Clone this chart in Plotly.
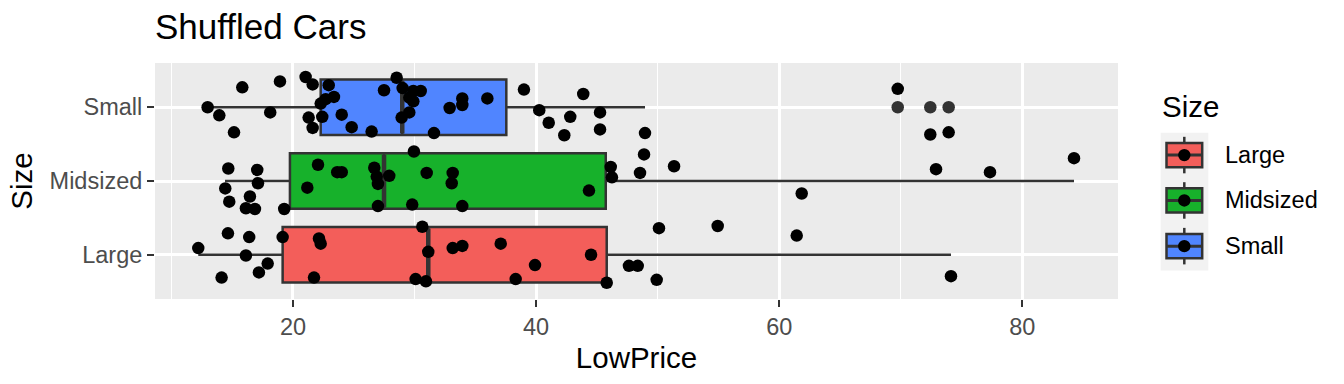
import plotly.graph_objects as go

# ---------------- data ----------------
categories = ["Large", "Midsized", "Small"]
cat_pos = {"Large": 1, "Midsized": 2, "Small": 3}
colors = {"Large": "#F35E5A", "Midsized": "#17B12B", "Small": "#5085FF"}

# box statistics
box_lower = {"Large": 12.21, "Midsized": 14.41, "Small": 12.98}
box_q1 = {"Large": 19.15, "Midsized": 19.75, "Small": 22.28}
box_median = {"Large": 31.13, "Midsized": 27.49, "Small": 28.99}
box_q3 = {"Large": 45.81, "Midsized": 45.73, "Small": 37.55}
box_upper = {"Large": 74.13, "Midsized": 84.25, "Small": 48.96}
outliers_small = [69.75, 72.43, 73.94]

# jittered points (x = LowPrice, y = jittered category position)
small_x = [12.98, 13.94, 15.15, 15.83, 18.93, 18.13, 21.04, 21.62, 21.29, 21.62,
           22.41, 22.28, 22.69, 23.37, 22.94, 24.01, 24.83, 26.47, 27.49, 28.53,
           29.02, 29.90, 30.51, 29.57, 29.90, 29.57, 28.94, 31.60, 32.89, 33.93,
           33.93, 35.99, 39.00, 40.26, 41.04, 42.32, 42.81, 43.88, 45.26, 45.26,
           48.96, 69.75, 72.43, 73.94]
small_y = [3.00, 2.89, 2.66, 3.27, 3.35, 2.93, 3.41, 3.31, 2.86, 2.72,
           2.87, 3.05, 3.11, 3.14, 3.30, 2.90, 2.73, 2.67, 3.23, 3.40,
           3.26, 3.22, 3.22, 3.13, 3.08, 2.93, 2.86, 2.65, 2.99, 3.12,
           3.03, 3.12, 3.24, 2.96, 2.79, 2.62, 2.87, 3.18, 2.93, 2.70,
           2.65, 3.25, 2.63, 2.66]

mid_x = [14.68, 17.06, 17.12, 14.43, 16.46, 14.76, 16.13, 16.87, 19.28, 21.18,
         22.06, 23.64, 24.01, 26.69, 26.89, 26.99, 27.92, 26.99, 29.81, 29.95,
         31.00, 33.14, 33.06, 33.93, 44.35, 46.14, 46.24, 48.55, 48.88, 51.35,
         61.85, 72.90, 77.34, 84.25]
mid_y = [2.17, 2.15, 1.97, 1.90, 1.79, 1.72, 1.63, 1.62, 1.62, 1.91,
         2.22, 2.12, 2.12, 2.18, 2.06, 1.96, 2.07, 1.66, 1.68, 2.40,
         2.11, 2.11, 1.97, 1.66, 1.87, 2.19, 2.05, 2.11, 2.36, 2.20,
         1.83, 2.16, 2.12, 2.31]

large_x = [12.21, 14.65, 16.40, 16.13, 14.13, 17.20, 17.92, 19.15, 22.14, 22.28,
           21.73, 30.64, 31.13, 30.09, 30.94, 33.14, 33.93, 37.09, 39.91, 38.32,
           44.52, 45.81, 47.64, 48.36, 50.11, 49.92, 54.94, 61.44, 74.13]
large_y = [1.09, 1.29, 1.24, 0.99, 0.69, 0.76, 0.88, 1.24, 1.22, 1.15,
           0.69, 1.38, 1.04, 0.67, 0.64, 1.09, 1.12, 1.15, 0.86, 0.67,
           1.00, 0.62, 0.85, 0.85, 1.36, 0.66, 1.39, 1.26, 0.71]

x_ticks = [20, 40, 60, 80]

# ---------------- layout constants ----------------
W, H = 1344, 384
L, R, T, B = 155, 1118, 62.7, 299.3
BOX_W = 0.75
LINE = "#333333"
FONT = "Liberation Sans, Arial, Helvetica, sans-serif"
TICK_SIZE = 23.5
TITLE_SIZE = 29.5


def px_x(px):
    return (px - L) / (R - L)


def px_y(py):
    return (B - py) / (B - T)


fig = go.Figure()

for c in categories:
    fig.add_trace(go.Box(
        y=[cat_pos[c]], q1=[box_q1[c]], median=[box_median[c]], q3=[box_q3[c]],
        lowerfence=[box_lower[c]], upperfence=[box_upper[c]],
        orientation="h", width=BOX_W, fillcolor=colors[c],
        line=dict(color=LINE, width=2.5), whiskerwidth=0,
        boxpoints=False, showlegend=False, hoverinfo="skip", name=c,
    ))
    # thicker median line (ggplot fatten)
    fig.add_trace(go.Scatter(
        x=[box_median[c], box_median[c]],
        y=[cat_pos[c] - BOX_W / 2 + 0.02, cat_pos[c] + BOX_W / 2 - 0.02],
        mode="lines", line=dict(color=LINE, width=4.5),
        showlegend=False, hoverinfo="skip",
    ))

fig.add_trace(go.Scatter(
    x=outliers_small, y=[cat_pos["Small"]] * len(outliers_small),
    mode="markers", marker=dict(color=LINE, size=12.5, line=dict(width=0)),
    showlegend=False, hoverinfo="skip",
))

for xs, ys in [(large_x, large_y), (mid_x, mid_y), (small_x, small_y)]:
    fig.add_trace(go.Scatter(
        x=xs, y=ys, mode="markers",
        marker=dict(color="black", size=12.5, line=dict(width=0)),
        showlegend=False, hoverinfo="skip",
    ))

# ---------------- custom ggplot-like legend ----------------
shapes = []
annotations = []
shapes.append(dict(type="rect", xref="paper", yref="paper",
                   x0=px_x(1160.7), x1=px_x(1208.3), y0=px_y(270.7), y1=px_y(132.7),
                   fillcolor="#F2F2F2", line=dict(width=0), layer="above"))
key_centers = {"Large": 155.0, "Midsized": 200.5, "Small": 246.3}
cx = 1184.3
for c in categories:
    cy = key_centers[c]
    shapes.append(dict(type="line", xref="paper", yref="paper",
                       x0=px_x(cx), x1=px_x(cx), y0=px_y(cy + 18.3), y1=px_y(cy - 18.3),
                       line=dict(color=LINE, width=2.5), layer="above"))
    shapes.append(dict(type="rect", xref="paper", yref="paper",
                       x0=px_x(1166.5), x1=px_x(1202.2), y0=px_y(cy + 12.2), y1=px_y(cy - 12.2),
                       fillcolor=colors[c], line=dict(color=LINE, width=2.5), layer="above"))
    shapes.append(dict(type="line", xref="paper", yref="paper",
                       x0=px_x(1166.5), x1=px_x(1202.2), y0=px_y(cy), y1=px_y(cy),
                       line=dict(color=LINE, width=3), layer="above"))
    shapes.append(dict(type="circle", xref="paper", yref="paper",
                       x0=px_x(cx - 6.2), x1=px_x(cx + 6.2), y0=px_y(cy + 6.2), y1=px_y(cy - 6.2),
                       fillcolor="black", line=dict(width=0), layer="above"))
    annotations.append(dict(text=c, xref="paper", yref="paper", x=px_x(1222.5), y=px_y(cy),
                            xanchor="left", yanchor="middle", showarrow=False,
                            font=dict(size=TICK_SIZE, color="black", family=FONT)))
annotations.append(dict(text="Size", xref="paper", yref="paper", x=px_x(1160), y=px_y(106),
                        xanchor="left", yanchor="middle", showarrow=False,
                        font=dict(size=TITLE_SIZE, color="black", family=FONT)))

fig.update_layout(
    width=W, height=H,
    margin=dict(l=L, r=W - R, t=T, b=H - B, autoexpand=False),
    paper_bgcolor="white", plot_bgcolor="#EBEBEB",
    font=dict(family=FONT, color="black"),
    title=dict(text="Shuffled Cars", x=L / W, xanchor="left", xref="container",
               y=1 - 27 / H, yanchor="middle", yref="container",
               font=dict(size=35, color="black", family=FONT)),
    shapes=shapes, annotations=annotations,
    showlegend=False,
)

fig.update_xaxes(
    range=[8.65, 87.87], tickvals=x_ticks, ticktext=[str(v) for v in x_ticks],
    showgrid=True, gridcolor="white", gridwidth=2.5, zeroline=False,
    minor=dict(tickvals=[10, 30, 50, 70], showgrid=True, gridcolor="white", gridwidth=1.2, ticklen=0),
    ticks="outside", ticklen=7, tickwidth=2, tickcolor=LINE,
    tickfont=dict(size=TICK_SIZE, color="#4D4D4D", family=FONT),
    showline=False, automargin=False,
    title=dict(text="LowPrice", font=dict(size=TITLE_SIZE, color="black", family=FONT), standoff=8),
)
fig.update_yaxes(
    range=[0.4, 3.6], tickvals=[cat_pos[c] for c in categories], ticktext=categories,
    showgrid=True, gridcolor="white", gridwidth=2.5, zeroline=False,
    ticks="outside", ticklen=7, tickwidth=2, tickcolor=LINE,
    tickfont=dict(size=TICK_SIZE, color="#4D4D4D", family=FONT),
    showline=False, automargin=False,
    title=dict(text="Size", font=dict(size=TITLE_SIZE, color="black", family=FONT), standoff=8),
)

fig.write_html("out.html", config={"displayModeBar": False},
               post_script="document.body.style.margin='0';")
